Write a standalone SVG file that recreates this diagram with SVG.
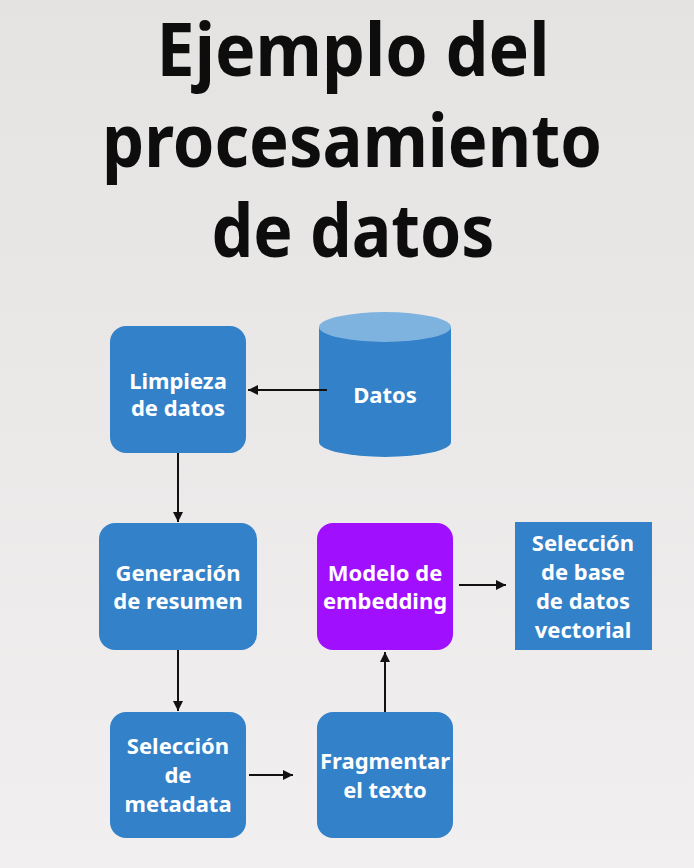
<svg xmlns="http://www.w3.org/2000/svg" width="694" height="868" viewBox="0 0 694 868">
<defs>
<linearGradient id="bg" x1="0" y1="0" x2="0" y2="1">
<stop offset="0" stop-color="#E5E3E2"/>
<stop offset="1" stop-color="#F1EFEF"/>
</linearGradient>
<marker id="ah" viewBox="0 0 10 10" refX="10" refY="5" markerWidth="10" markerHeight="10" markerUnits="userSpaceOnUse" orient="auto">
<path d="M0,0 L10,5 L0,10 z" fill="#111"/>
</marker>
<style>
.title{font-family:"Noto Sans","Open Sans",sans-serif;font-weight:700;font-size:74px;fill:#0d0d0d;text-anchor:middle}
.blue{fill:#3381C9}
.purple{fill:#A10FFF}
.lbl{font-family:"Noto Sans","Open Sans",sans-serif;font-weight:700;font-size:22px;fill:#fff;text-anchor:middle}
.conn{stroke:#111;stroke-width:2;fill:none;marker-end:url(#ah)}
</style>
</defs>
<rect width="694" height="868" fill="url(#bg)"/>
<g id="title">
<text class="title" x="353" y="76" textLength="393" lengthAdjust="spacingAndGlyphs">Ejemplo del</text>
<text class="title" x="352" y="167" textLength="500" lengthAdjust="spacingAndGlyphs">procesamiento</text>
<text class="title" x="353" y="257" textLength="283" lengthAdjust="spacingAndGlyphs">de datos</text>
</g>
<g id="datos">
<path class="blue" d="M319,327 L319,442 A66,15 0 0 0 451,442 L451,327 z"/>
<ellipse cx="385" cy="327" rx="66" ry="15" fill="#7DB3DE"/>
<text class="lbl" x="385" y="403">Datos</text>
</g>
<g id="limpieza">
<rect class="blue" x="110" y="326" width="136" height="127" rx="16"/>
<text class="lbl" x="178" y="389">Limpieza</text>
<text class="lbl" x="178" y="416">de datos</text>
</g>
<g id="generacion">
<rect class="blue" x="99" y="523" width="158" height="127" rx="16"/>
<text class="lbl" x="178" y="581">Generación</text>
<text class="lbl" x="178" y="609">de resumen</text>
</g>
<g id="modelo">
<rect class="purple" x="317" y="523" width="136" height="127" rx="16"/>
<text class="lbl" x="385" y="581">Modelo de</text>
<text class="lbl" x="385" y="609">embedding</text>
</g>
<g id="seleccion-bd">
<rect class="blue" x="515" y="522" width="137" height="128"/>
<text class="lbl" x="583" y="551">Selección</text>
<text class="lbl" x="583" y="580">de base</text>
<text class="lbl" x="583" y="609">de datos</text>
<text class="lbl" x="583" y="638">vectorial</text>
</g>
<g id="metadata">
<rect class="blue" x="110" y="712" width="136" height="126" rx="16"/>
<text class="lbl" x="178" y="754">Selección</text>
<text class="lbl" x="178" y="783">de</text>
<text class="lbl" x="178" y="812">metadata</text>
</g>
<g id="fragmentar">
<rect class="blue" x="317" y="712" width="136" height="126" rx="16"/>
<text class="lbl" x="385" y="769">Fragmentar</text>
<text class="lbl" x="385" y="798">el texto</text>
</g>
<g id="connectors">
<line class="conn" x1="327" y1="390" x2="248" y2="390"/>
<line class="conn" x1="178" y1="453" x2="178" y2="522"/>
<line class="conn" x1="178" y1="650" x2="178" y2="711"/>
<line class="conn" x1="249" y1="775" x2="293" y2="775"/>
<line class="conn" x1="385" y1="712" x2="385" y2="652"/>
<line class="conn" x1="459" y1="585" x2="506" y2="585"/>
</g>
</svg>
